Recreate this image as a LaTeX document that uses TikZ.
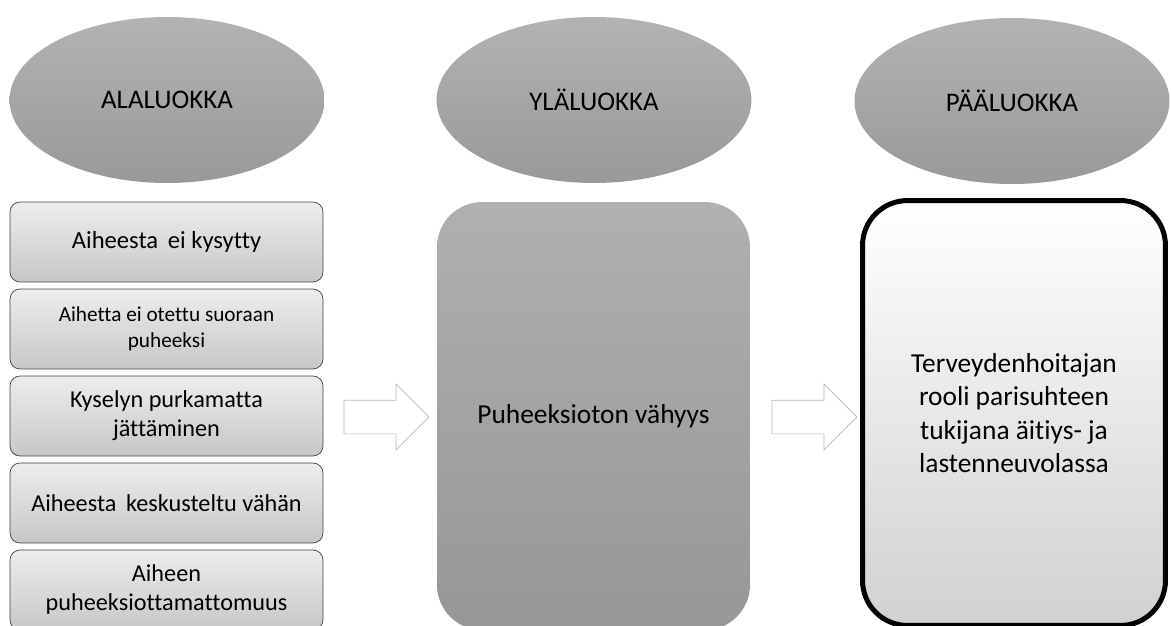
\documentclass[tikz,border=0pt]{standalone}
\usepackage{fontspec}
\setmainfont{Carlito}[Ligatures=NoCommon]
\usetikzlibrary{shapes.geometric,shapes.arrows}
\tikzset{
  category/.style={
    shape = ellipse,
    top color = black!30,
    bottom color = black!40,
    minimum width = 6.3cm,
    minimum height = 3.32cm,
    font = \fontsize{15.3}{18}\selectfont
  },
  subbox/.style={
    draw = black!75,
    top color = black!7,
    bottom color = black!22,
    rounded corners = 0.2cm,
    minimum width = 6.26cm,
    minimum height = 1.6cm,
    align = center,
    font = \fontsize{13.8}{16.5}\selectfont
  },
  upperbox/.style={
    top color = black!31,
    bottom color = black!41,
    rounded corners = 0.9cm,
    minimum width = 6.26cm,
    minimum height = 8.56cm,
    font = \fontsize{15.6}{18}\selectfont
  },
  mainbox/.style={
    draw,
    line width = 0.1cm,
    top color = white,
    bottom color = black!18,
    rounded corners = 0.9cm,
    minimum width = 6.06cm,
    minimum height = 8.5cm,
    align = center,
    font = \fontsize{15.6}{19}\selectfont
  },
  blockarrow/.style={
    shape = single arrow,
    draw = black!28,
    fill = white,
    inner sep = 0.33cm,
    single arrow head extend = 0.32cm,
    minimum height = 1.7cm
  }
}
\begin{document}
\begin{tikzpicture}[x=0.02cm,y=-0.02cm]
  \useasboundingbox (0,0) rectangle (1171,626);
  % otsikot
  \node[category] (ala) at (167,100) {ALALUOKKA};
  \node[category] (yla) at (594,100) {YLÄLUOKKA};
  \node[category] (paa) at (1012,101) {PÄÄLUOKKA};
  % alaluokat
  \node[subbox,font=\fontsize{14}{17}\selectfont] (s1) at (166.5,242) {Aiheesta\hspace{5.5pt}ei kysytty};
  \node[subbox,font=\fontsize{12.1}{15}\selectfont] (s2) at (166.5,329) {Aihetta ei otettu suoraan\\puheeksi};
  \node[subbox] (s3) at (166.5,416) {Kyselyn purkamatta\\jättäminen};
  \node[subbox] (s4) at (166.5,503) {Aiheesta\hspace{5.5pt}keskusteltu vähän};
  \node[subbox] (s5) at (166.5,590) {Aiheen\\puheeksiottamattomuus};
  % yläluokka ja pääluokka
  \node[upperbox] (u) at (593.5,416) {Puheeksioton vähyys};
  \node[mainbox] (m) at (1014,413) {Terveydenhoitajan\\rooli parisuhteen\\tukijana äitiys- ja\\lastenneuvolassa};
  \node[blockarrow] (a1) at (378,417) {};
  \node[blockarrow] (a2) at (806,417) {};
\end{tikzpicture}
\end{document}
